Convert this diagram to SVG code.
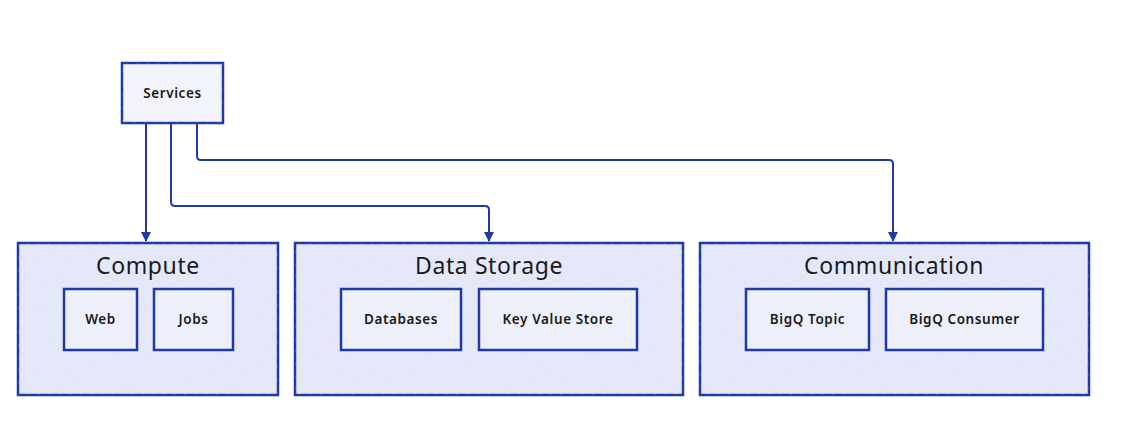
<svg xmlns="http://www.w3.org/2000/svg" width="1140" height="430" viewBox="0 0 1140 430">
<defs>
<pattern id="hatch" width="8" height="8" patternUnits="userSpaceOnUse" patternTransform="rotate(-40)">
<line x1="0" y1="0" x2="0" y2="8" stroke="#ffffff" stroke-opacity="0.35" stroke-width="1"/>
</pattern>
<marker id="arr" viewBox="0 0 10 10" refX="9" refY="5" markerWidth="10" markerHeight="10" markerUnits="userSpaceOnUse" orient="auto">
<path d="M0,0 L10,5 L0,10 Z" fill="#1f3aa8"/>
</marker>
<style>
.grp{fill:#e3e7f8;stroke:#1f3aa8;stroke-width:2.5}
.box{fill:#edf0fb;stroke:#1f3aa8;stroke-width:2.5}
.svc{fill:#f3f4fb;stroke:#1f3aa8;stroke-width:2.5}
.hat{fill:url(#hatch);stroke:none}
.title{font-family:"Noto Sans",sans-serif;font-size:23px;letter-spacing:0.6px;fill:#1a1a1a;text-anchor:middle}
.lbl{font-family:"Noto Sans",sans-serif;font-size:13.5px;letter-spacing:0.6px;font-weight:600;fill:#1a1a1a;text-anchor:middle}
.con{fill:none;stroke:#1f3aa8;stroke-width:2;stroke-linejoin:round}
</style>
</defs>
<rect width="1140" height="430" fill="#ffffff"/>

<g id="services">
<rect class="svc" x="122" y="63" width="101" height="60"/>
<rect class="hat" x="122" y="63" width="101" height="60"/>
<text class="lbl" x="172.5" y="98">Services</text>
</g>

<g id="compute">
<rect class="grp" x="18" y="243" width="260" height="152"/>
<rect class="hat" x="18" y="243" width="260" height="152"/>
<text class="title" x="148" y="274">Compute</text>
<g id="web">
<rect class="box" x="64" y="289" width="73" height="61"/>
<text class="lbl" x="100.5" y="324">Web</text>
</g>
<g id="jobs">
<rect class="box" x="154" y="289" width="79" height="61"/>
<text class="lbl" x="193.5" y="324">Jobs</text>
</g>
</g>

<g id="data-storage">
<rect class="grp" x="295" y="243" width="388" height="152"/>
<rect class="hat" x="295" y="243" width="388" height="152"/>
<text class="title" x="489" y="274">Data Storage</text>
<g id="databases">
<rect class="box" x="341" y="289" width="120" height="61"/>
<text class="lbl" x="401" y="324">Databases</text>
</g>
<g id="kvs">
<rect class="box" x="479" y="289" width="158" height="61"/>
<text class="lbl" x="558" y="324">Key Value Store</text>
</g>
</g>

<g id="communication">
<rect class="grp" x="700" y="243" width="389" height="152"/>
<rect class="hat" x="700" y="243" width="389" height="152"/>
<text class="title" x="894" y="274">Communication</text>
<g id="bigq-topic">
<rect class="box" x="746" y="289" width="123" height="61"/>
<text class="lbl" x="807.5" y="324">BigQ Topic</text>
</g>
<g id="bigq-consumer">
<rect class="box" x="886" y="289" width="157" height="61"/>
<text class="lbl" x="964.5" y="324">BigQ Consumer</text>
</g>
</g>

<g id="connectors">
<path class="con" d="M146,123 L146,241" marker-end="url(#arr)"/>
<path class="con" d="M171,123 L171,202 Q171,206 175,206 L485,206 Q489,206 489,210 L489,241" marker-end="url(#arr)"/>
<path class="con" d="M197,123 L197,156 Q197,160 201,160 L889,160 Q893,160 893,164 L893,241" marker-end="url(#arr)"/>
</g>
</svg>
